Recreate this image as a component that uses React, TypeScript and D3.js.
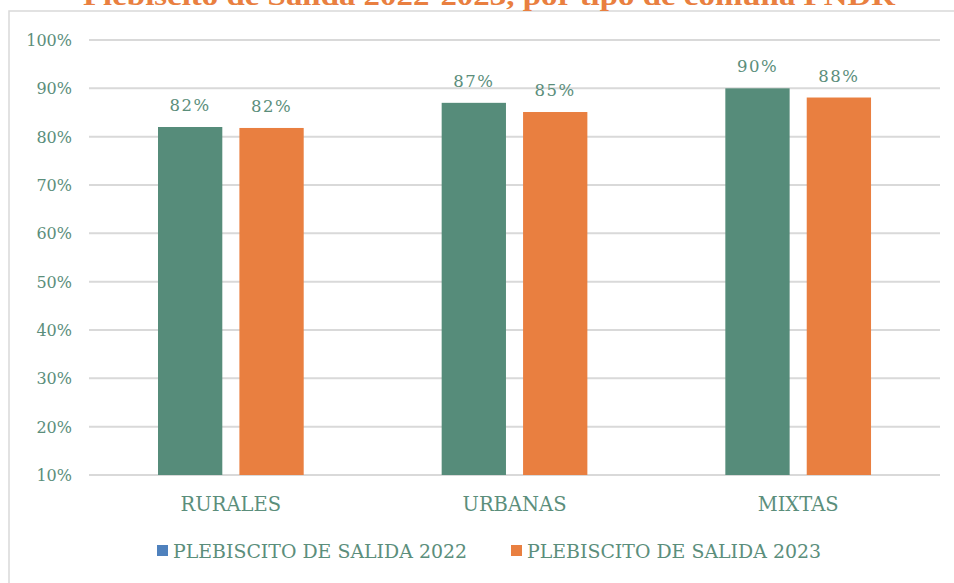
import React from "react";
import * as d3 from "d3";

const categories = ["RURALES", "URBANAS", "MIXTAS"];
const seriesNames = ["PLEBISCITO DE SALIDA 2022", "PLEBISCITO DE SALIDA 2023"];
const values2022 = [0.82, 0.87, 0.9];
const values2023 = [0.818, 0.851, 0.881];
const yTicks = [0.1, 0.2, 0.3, 0.4, 0.5, 0.6, 0.7, 0.8, 0.9, 1.0];
const title = "Plebiscito de Salida 2022-2023, por tipo de comuna PNDR";

const W = 954;
const H = 583;
const barColors = ["#568C7A", "#E97F40"];
const legendColors = ["#4F81BD", "#E97F40"];
const textColor = "#5B8E7B";
const font = "'DejaVu Serif', 'Liberation Serif', serif";

export default function App() {
  const x0 = d3.scaleBand<string>().domain(categories).range([89, 940]).paddingInner(0).paddingOuter(0);
  const x1 = d3.scaleBand<number>().domain([0, 1]).range([69, 283.7 - 69]).paddingInner(0.21);
  const y = d3.scaleLinear().domain([0.1, 1.0]).range([475, 40]);
  const series = [values2022, values2023];
  const pct = d3.format(".0%");

  return (
    <svg width={W} height={H} style={{ position: "absolute", left: 0, top: 0, background: "#fff" }}>
      <rect x={9} y={11} width={W + 10} height={H + 10} fill="#fff" stroke="#d9d9d9" strokeWidth={1.5} />
      <text x={489} y={5} textAnchor="middle" fill="#E97F40" fontFamily="'Liberation Serif', serif" fontWeight="bold" fontSize={27} textLength={812} lengthAdjust="spacingAndGlyphs">
        {title}
      </text>
      {yTicks.map((t) => (
        <g key={t}>
          <line x1={89} x2={940} y1={y(t)} y2={y(t)} stroke="#d9d9d9" strokeWidth={2} />
          <text x={72} y={y(t) + 6} textAnchor="end" fill={textColor} fontFamily={font} fontSize={16}>
            {pct(t)}
          </text>
        </g>
      ))}
      {categories.map((c, i) => (
        <g key={c} transform={`translate(${x0(c)},0)`}>
          {series.map((vals, s) => {
            const bx = x1(s)!;
            const bw = x1.bandwidth();
            return (
              <g key={s}>
                <rect x={bx} y={y(vals[i])} width={bw} height={y(0.1) - y(vals[i])} fill={barColors[s]} />
                <text x={bx + bw / 2} y={y(vals[i]) - 16} textAnchor="middle" fill={textColor} fontFamily={font} fontSize={16.5} letterSpacing={1.5}>
                  {pct(vals[i])}
                </text>
              </g>
            );
          })}
          <text x={x0.bandwidth() / 2} y={511} textAnchor="middle" fill={textColor} fontFamily={font} fontSize={19.5}>
            {c}
          </text>
        </g>
      ))}
      {seriesNames.map((n, s) => {
        const lx = [157, 511][s];
        return (
          <g key={n}>
            <rect x={lx} y={545} width={11} height={11} fill={legendColors[s]} />
            <text x={lx + 16} y={558} fill={textColor} fontFamily={font} fontSize={19} textLength={294} lengthAdjust="spacingAndGlyphs">
              {n}
            </text>
          </g>
        );
      })}
    </svg>
  );
}
